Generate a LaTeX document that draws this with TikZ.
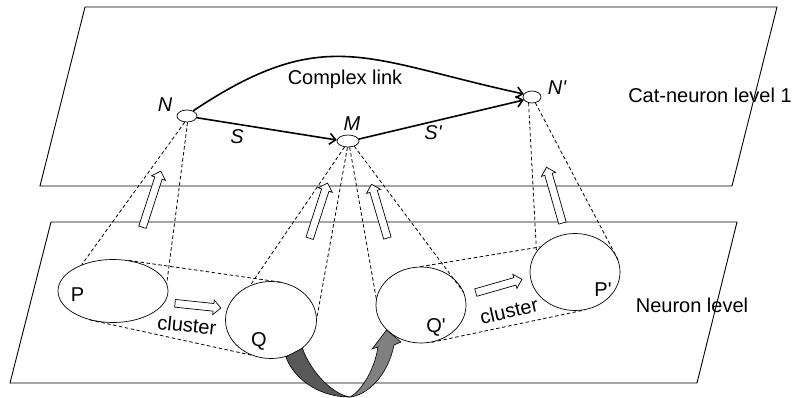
\documentclass[tikz,border=0pt]{standalone}
\usepackage{fontspec}
\newfontfamily\labelfont{Liberation Sans}
\usepackage{tikz}
\usetikzlibrary{shapes.geometric,shapes.arrows,arrows.meta}

\tikzset{
  plane/.style={line width=0.9pt},
  cell/.style={draw, ellipse, line width=0.7pt, inner sep=0pt},
  proj/.style={dash pattern=on 3.5pt off 2.5pt, line width=0.8pt},
  link/.style={line width=1.6pt, -{Straight Barb[length=6pt,width=11pt]}},
  lift/.style={draw, fill=white, single arrow, inner sep=3.5pt, single arrow head extend=3.5pt, line width=0.7pt},
  txt/.style={font=\labelfont\fontsize{20}{24}\selectfont, inner sep=0pt},
  itxt/.style={font=\labelfont\itshape\fontsize{20}{24}\selectfont, inner sep=0pt},
}

\begin{document}
\begin{tikzpicture}[x=1pt, y=-1pt]
      \useasboundingbox (0,0) rectangle (795,398);
      % the two levels
      \draw[plane] (85,7) -- (777,7) -- (732,186) -- (40,186) -- cycle;
      \draw[plane] (51,222) -- (737,222) -- (697,383) -- (10,383) -- cycle;
      % cat-neurons
      \node[cell, minimum width=20pt, minimum height=12pt] (N) at (187,116) {};
      \node[cell, minimum width=22pt, minimum height=12pt] (M) at (348,141) {};
      \node[cell, minimum width=18pt, minimum height=12pt] (Np) at (532,97) {};
      % neuron patterns
      \node[cell, minimum width=110pt, minimum height=63pt] (P) at (113,291) {};
      \node[cell, minimum width=91pt, minimum height=77pt] (Q) at (271,320) {};
      \node[cell, minimum width=90pt, minimum height=76pt] (Qp) at (421,305) {};
      \node[cell, minimum width=90pt, minimum height=77pt] (Pp) at (575,272) {};
      % projections
      \draw[proj] (N.250) -- (P.140);
      \draw[proj] (N.275) -- (P.8);
      \draw[proj] (M.240) -- (Q.121);
      \draw[proj] (M.265) -- (Q.2);
      \draw[proj] (M.285) -- (Qp.172);
      \draw[proj] (M.320) -- (Qp.16);
      \draw[proj] (Np.240) -- (Pp.152);
      \draw[proj] (Np.300) -- (Pp.16);
      \draw[proj] (P.63) -- (Q.72);
      \draw[proj] (P.231) -- (Q.241);
      \draw[proj] (Qp.91) -- (Pp.144);
      \draw[proj] (Qp.286) -- (Pp.285);
      % links
      \draw[link] (N.350) -- (M.175);
      \draw[link] (M.10) -- (Np.200);
      \draw[link] (N.40) .. controls (325,23) and (366,60) .. (Np.160);
      % hollow arrows
      \node[lift, minimum height=59pt, rotate=72] (up1) at (151,201) {};
      \node[lift, minimum height=58pt, rotate=72] (up2) at (318,212.5) {};
      \node[lift, minimum height=56pt, rotate=106.5] (up3) at (380,213) {};
      \node[lift, minimum height=58pt, rotate=106] (up4) at (555,197) {};
      \node[lift, minimum height=46pt, rotate=-6] (cl1) at (196,305.5) {};
      \node[lift, minimum height=48pt, rotate=16] (cl2) at (497,286.5) {};
      % twisted arrow Q -> Q'
      \draw[fill=black!65, line width=0.6pt] (Q.292) .. controls (292,375) and (315,397) .. (350,397)
        .. controls (335,395) and (312,375) .. (Q.318) -- cycle;
      \draw[fill=black!50, line width=0.6pt] (350,397) .. controls (368,395) and (388,375) .. (394,345)
        -- (401,342) -- (Qp.216) -- (372,349) -- (378,347) .. controls (374,372) and (360,392) .. (350,397) -- cycle;
      % labels
      \node[itxt] (lN) at (165,105) {N};
      \node[itxt] (lM) at (352,123.5) {M};
      \node[itxt] (lNp) at (557,88) {N'};
      \node[itxt] (lS) at (237,137) {S};
      \node[itxt] (lSp) at (433,132.5) {S'};
      \node[txt] (lcx) at (345,79) {Complex link};
      \node[txt] (lcat) at (710,95) {Cat-neuron level 1};
      \node[txt] (lneu) at (692,305) {Neuron level};
      \node[txt] (lP) at (77.5,295) {P};
      \node[txt] (lQ) at (259,341) {Q};
      \node[txt] (lQp) at (436,327.5) {Q'};
      \node[txt] (lPp) at (603,289.5) {P'};
      \node[txt, rotate=-6] (lcl1) at (187,325) {cluster};
      \node[txt, rotate=13] (lcl2) at (509,311) {cluster};
\end{tikzpicture}
\end{document}
